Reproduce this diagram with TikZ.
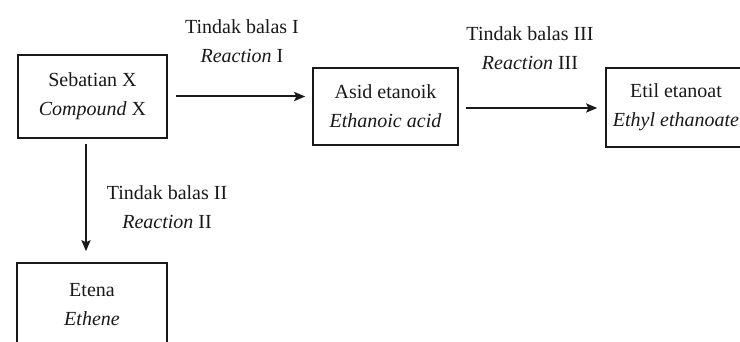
\documentclass[tikz,border=0pt]{standalone}
\usepackage{fontspec}
\setmainfont{Liberation Serif}
\usetikzlibrary{arrows.meta,calc}

\tikzset{
  box/.style={draw=black!90, line width=1.5pt, rectangle, align=center,
              inner sep=0pt, text=black!90,
              font=\fontsize{20}{29}\selectfont},
  lbl/.style={align=center, inner sep=0pt, text=black!90,
              font=\fontsize{20}{29}\selectfont},
  flow/.style={draw=black!90, line width=2pt,
               -{Stealth[length=11pt,width=9pt,inset=2pt]}}
}

\begin{document}
\begin{tikzpicture}[x=1pt,y=-1pt]
  \useasboundingbox (0,0) rectangle (740,342);
  \clip (0,0) rectangle (740,342);
  \fill[white] (0,0) rectangle (740,342);

  % compounds
  \node[box, minimum width=149pt, minimum height=83pt] (X) at (92.5,96.5)
        {Sebatian X\\\textit{Compound} X};
  \node[box, minimum width=145pt, minimum height=77pt] (A) at (385.5,106.5)
        {Asid etanoik\\\textit{Ethanoic acid}};
  \node[box, minimum width=140pt, minimum height=79pt] (E) at (676,107.5)
        {Etil etanoat\\\textit{Ethyl ethanoate}};
  \node[box, minimum width=150pt, minimum height=84pt] (T) at (92,305)
        {Etena\\\textit{Ethene}};

  % reaction labels
  \node[lbl] (r1) at (242,41.5) {Tindak balas I\\\textit{Reaction} I};
  \node[lbl] (r3) at (530,48)   {Tindak balas III\\\textit{Reaction} III};
  \node[lbl] (r2) at (167,207.5) {Tindak balas II\\\textit{Reaction} II};

  % reactions
  \draw[flow] ([xshift=8pt]X.east) -- ([xshift=-7pt]X.east -| A.west);
  \draw[flow] ([xshift=7pt,yshift=-1.5pt]A.east) -- ([xshift=-8pt,yshift=-1.5pt]A.east -| E.west);
  \draw[flow] ([xshift=-6.5pt,yshift=-5pt]X.south) -- ([xshift=-6.5pt,yshift=11pt]X.south |- T.north);
\end{tikzpicture}
\end{document}
